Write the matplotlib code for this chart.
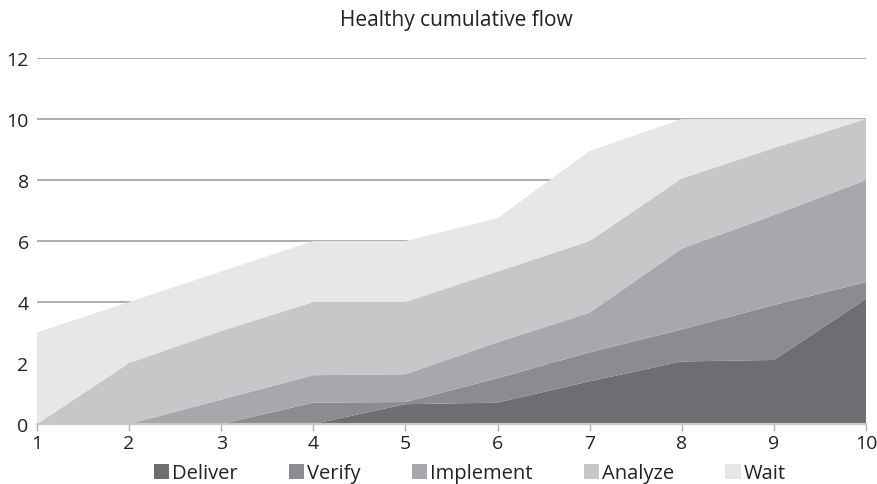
import matplotlib
matplotlib.use("Agg")
import matplotlib.pyplot as plt
from matplotlib.patches import Patch

plt.rcParams['font.family'] = ['Open Sans', 'DejaVu Sans']

days = [1, 2, 3, 4, 5, 6, 7, 8, 9, 10]
deliver = [0, 0, 0, 0, 0.65, 0.7, 1.4, 2.05, 2.1, 4.1]
verify = [0, 0, 0, 0.7, 0.07, 0.8, 0.95, 1.05, 1.8, 0.55]
implement = [0, 0, 0.8, 0.9, 0.91, 1.18, 1.3, 2.65, 2.95, 3.35]
analyze = [0, 2, 2.25, 2.4, 2.37, 2.32, 2.35, 2.3, 2.2, 2.0]
wait = [3, 2, 1.95, 2, 2, 1.75, 2.95, 1.95, 0.95, 0]

names = ["Deliver", "Verify", "Implement", "Analyze", "Wait"]
colors = ["#6d6e71", "#8b8c90", "#a7a8ab", "#c6c7c9", "#e6e7e8"]

fig = plt.figure(figsize=(8.78, 4.85), dpi=100)
ax = fig.add_axes([0.0421, 0.1237, 0.9442, 0.7546])

# gridlines sit behind the areas
for y in range(2, 13, 2):
    ax.axhline(y, color="#a0a0a1", lw=1.2, zorder=0)

ax.stackplot(days, deliver, verify, implement, analyze, wait,
             colors=colors, lw=0, zorder=2)

ax.set_xlim(1, 10)
ax.set_ylim(0, 12)
ax.set_xticks(days)
ax.set_yticks(range(0, 13, 2))
for s in ["top", "right", "left"]:
    ax.spines[s].set_visible(False)
ax.spines["bottom"].set_color("#c8c8c8")
ax.spines["bottom"].set_linewidth(1.5)
ax.spines["bottom"].set_zorder(3)
ax.tick_params(axis="x", direction="out", length=5, width=1, color="#b0b0b0",
               labelsize=14, pad=2, labelcolor="#222222")
ax.tick_params(axis="y", length=0, labelsize=14, pad=6, labelcolor="#222222")

fig.text(0.52, 0.957, "Healthy cumulative flow", ha="center", va="center",
         fontsize=15, color="#222222")

handles = [Patch(facecolor=c, edgecolor="none") for c in colors]
fig.legend(handles, names, loc="lower center", bbox_to_anchor=(0.535, -0.036),
           ncol=5, frameon=False, fontsize=14.5, handlelength=0.75,
           handleheight=0.75, handletextpad=0.15, columnspacing=2.55,
           labelcolor="#222222")

fig.savefig("out.png", dpi=100)
